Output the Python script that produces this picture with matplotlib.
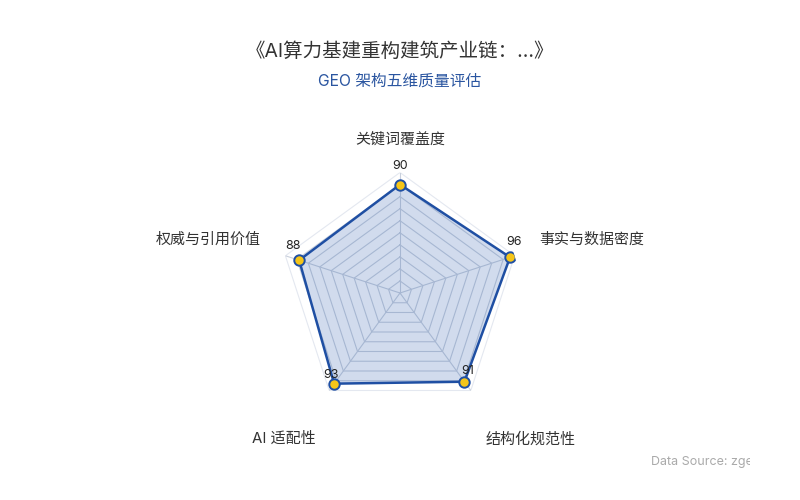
import numpy as np
import matplotlib.pyplot as plt
from matplotlib.transforms import Bbox

plt.rcParams['font.family'] = ['Inter', 'Noto Sans CJK SC', 'DejaVu Sans']

# --- Data ---
dimensions = ["关键词覆盖度", "事实与数据密度", "结构化规范性", "AI 适配性", "权威与引用价值"]
scores = [90, 96, 91, 93, 88]
max_score = 100
split_levels = [10, 20, 30, 40, 50, 60, 70, 80, 90, 100]

title = "《AI算力基建重构建筑产业链：...》"
subtitle = "GEO 架构五维质量评估"
source = "Data Source: zgeo.cn"

W, H = 800, 500
fig = plt.figure(figsize=(8, 5), dpi=100)
fig.patch.set_facecolor("white")

# polar axes centred at (400, 293) px, radius 120.5 px
cx, cy, R = 400, 293, 120.5
ax = fig.add_axes([(cx - R) / W, (H - cy - R) / H, 2 * R / W, 2 * R / H], projection="polar")
ax.set_theta_offset(np.pi / 2)
ax.set_theta_direction(-1)
ax.set_ylim(0, max_score)
ax.set_xticks([])
ax.set_yticks([])
ax.grid(False)
ax.spines["polar"].set_visible(False)
ax.patch.set_alpha(0)

n = len(dimensions)
angles = np.linspace(0, 2 * np.pi, n, endpoint=False)
closed = np.append(angles, angles[0])

# split lines (pentagons) and spokes
for lvl in split_levels:
    col = "#e4e8f0" if lvl == max_score else "#c9d0dc"
    ax.plot(closed, [lvl] * (n + 1), color=col, lw=0.8, zorder=1)
for a in angles:
    ax.plot([a, a], [0, max_score], color="#c9d0dc", lw=0.8, zorder=1)

# series
vals = np.append(scores, scores[0])
ax.fill(closed, vals, color="#2f5fb0", alpha=0.22, zorder=2, lw=0)
ax.plot(closed, vals, color="#1f4fa3", lw=1.8, zorder=3)
ax.plot(angles, scores, "o", ms=7.5, mfc="#f5c518", mec="#1f4fa3", mew=1.4, zorder=4)

# value labels (pixel offsets)
label_off = [(0, 19), (4, 15), (3, 11), (-3, 9), (-6, 14)]
for a, v, (dx, dy) in zip(angles, scores, label_off):
    ax.annotate(str(v), (a, v), xytext=(dx * 0.72, dy * 0.72), textcoords="offset points",
                ha="center", va="center", fontsize=9, color="#222222", zorder=5)

# axis names (pixel positions: x, y, ha)
name_pos = [(400, 140, "center"), (539, 240, "left"), (486, 439, "left"),
            (252, 439, "left"), (261, 240, "right")]
for name, (x, y, ha) in zip(dimensions, name_pos):
    fig.text(x / W, 1 - y / H, name, ha=ha, va="center", fontsize=10.8, color="#333333")

fig.text(0.5, 1 - 52 / H, title, ha="center", va="center", fontsize=14, color="#333333")
fig.text(0.5, 1 - 81 / H, subtitle, ha="center", va="center", fontsize=11.3, color="#2a55a0")

src = fig.text(651 / W, 1 - 462 / H, source, ha="left", va="center", fontsize=9, color="#aaaaaa")
src.set_clip_box(Bbox.from_extents(640, 0, 750, 500))
src.set_clip_on(True)

fig.savefig("out.png", dpi=100)
